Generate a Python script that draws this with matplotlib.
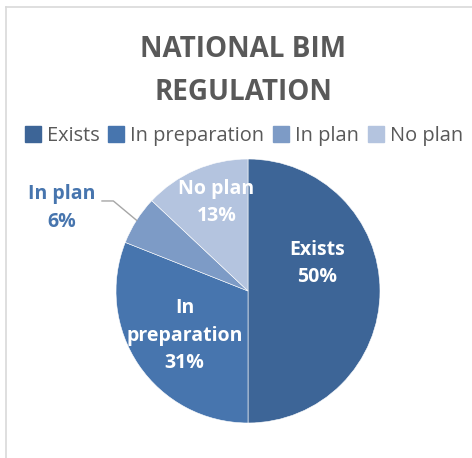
import matplotlib.pyplot as plt
import numpy as np
from matplotlib.lines import Line2D

labels = ['Exists', 'In preparation', 'In plan', 'No plan']
values = [50, 31, 6, 13]
colors = ['#3D6597', '#4775AE', '#7D9BC6', '#B4C4DF']
text_grey = '#595959'

plt.rcParams['font.family'] = ['Open Sans', 'DejaVu Sans']

fig = plt.figure(figsize=(4.72, 4.58), dpi=100)
W, H = 472, 458

# chart frame (light grey border, left and top visible)
fig.add_artist(Line2D([6 / W, 6 / W], [0, 1 - 7 / H], color='#D9D9D9', lw=1.2))
fig.add_artist(Line2D([6 / W, 1], [1 - 7 / H, 1 - 7 / H], color='#D9D9D9', lw=1.2))

fig.text(243 / W, 1 - 71 / H, 'NATIONAL BIM\nREGULATION', ha='center', va='center',
         fontsize=20, fontweight='bold', color=text_grey, linespacing=1.6)

cx, cy, r = 248, 291, 132
ax = fig.add_axes([(cx - r) / W, (H - cy - r) / H, 2 * r / W, 2 * r / H])
wedges, _ = ax.pie(values, colors=colors, startangle=90, counterclock=False,
                   wedgeprops=dict(edgecolor='white', linewidth=0.4))
ax.set_xlim(-1, 1)
ax.set_ylim(-1, 1)
ax.set_aspect('equal')
ax.axis('off')

handles = [plt.Rectangle((0, 0), 1, 1, color=c) for c in colors]
fig.legend(handles, labels, loc='center', bbox_to_anchor=(244 / W, 1 - 136 / H), ncol=4,
           frameon=False, fontsize=14.4, labelcolor=text_grey, handlelength=0.8,
           handleheight=0.8, handletextpad=0.3, columnspacing=0.45)

# data labels
inside = {0: (0.52, 0.21), 1: (-0.48, -0.34), 3: (-0.24, 0.67)}
for i, (x, y) in inside.items():
    ax.text(x, y, f'{labels[i]}\n{values[i]}%' if i != 1 else f'In\npreparation\n{values[i]}%',
            ha='center', va='center', color='white', fontsize=14,
            fontweight='bold', linespacing=1.5)

# In plan: outside label with leader line
w = wedges[2]
mid = np.deg2rad((w.theta1 + w.theta2) / 2)
ex, ey = np.cos(mid), np.sin(mid)
ax.plot([-1.106, -1.02, ex], [0.682, 0.682, ey], color='#A6A6A6', lw=1, clip_on=False)
ax.text(-1.41, 0.63, f'{labels[2]}\n{values[2]}%', ha='center', va='center',
        color='#4775AE', fontsize=14, fontweight='bold', linespacing=1.5)

fig.savefig('out.png', dpi=100)
